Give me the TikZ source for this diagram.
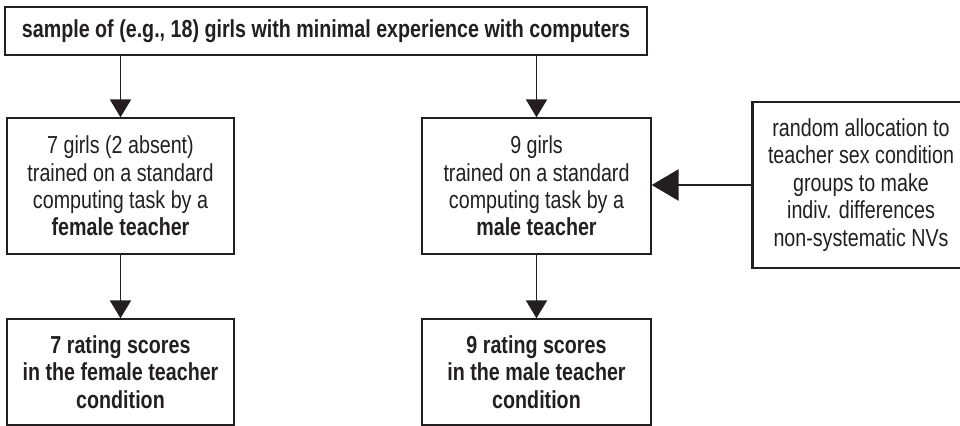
\documentclass[tikz,border=0pt]{standalone}
\usepackage{fontspec}
\setmainfont{Liberation Sans}[FakeStretch=0.8]
\usetikzlibrary{arrows.meta}
\definecolor{ink}{RGB}{35,31,32}

\begin{document}
\begin{tikzpicture}[font=\fontsize{14}{15.6}\selectfont,
   box/.style={draw=ink, text=ink, line width=0.75pt, align=center, inner sep=0pt},
   thickbox/.style={box, line width=1.7pt},
   arr/.style={draw=ink, line width=1.1pt, -{Triangle[length=3.6mm,width=4.2mm]}},
   bigarr/.style={draw=ink, line width=1.7pt, -{Triangle[length=5.4mm,width=6.2mm]}}]
   \useasboundingbox (0,0) rectangle (19.2,-8.52);
   % sample
   \node[box, minimum width=12.84cm, minimum height=0.96cm] (sample) at (6.52,-0.62)
     {\textbf{sample of (e.g., 18) girls with minimal experience with computers}};
   % the two teacher groups
   \node[box, minimum width=4.54cm, minimum height=2.72cm] (female) at (2.41,-3.72)
     {7 girls (2 absent)\\trained on a standard\\computing task by a\\\textbf{female teacher}};
   \node[box, minimum width=4.58cm, minimum height=2.72cm] (male) at (10.73,-3.72)
     {9 girls\\trained on a standard\\computing task by a\\\textbf{male teacher}};
   \node[thickbox, minimum width=4.36cm, minimum height=3.32cm] (alloc) at (17.22,-3.70)
     {random allocation to\\teacher sex condition\\groups to make\\indiv. differences\\non-systematic NVs};
   % scores
   \node[box, minimum width=4.54cm, minimum height=2.12cm] (fscores) at (2.41,-7.44)
     {\textbf{7 rating scores}\\\textbf{in the female teacher}\\\textbf{condition}};
   \node[box, minimum width=4.58cm, minimum height=2.12cm] (mscores) at (10.73,-7.44)
     {\textbf{9 rating scores}\\\textbf{in the male teacher}\\\textbf{condition}};
   \draw[arr] (female.north |- sample.south) -- (female.north);
   \draw[arr] (male.north |- sample.south) -- (male.north);
   \draw[arr] (female.south) -- (fscores.north);
   \draw[arr] (male.south) -- (mscores.north);
   \draw[bigarr] (alloc.west) -- (alloc.west -| male.east);
\end{tikzpicture}
\end{document}
